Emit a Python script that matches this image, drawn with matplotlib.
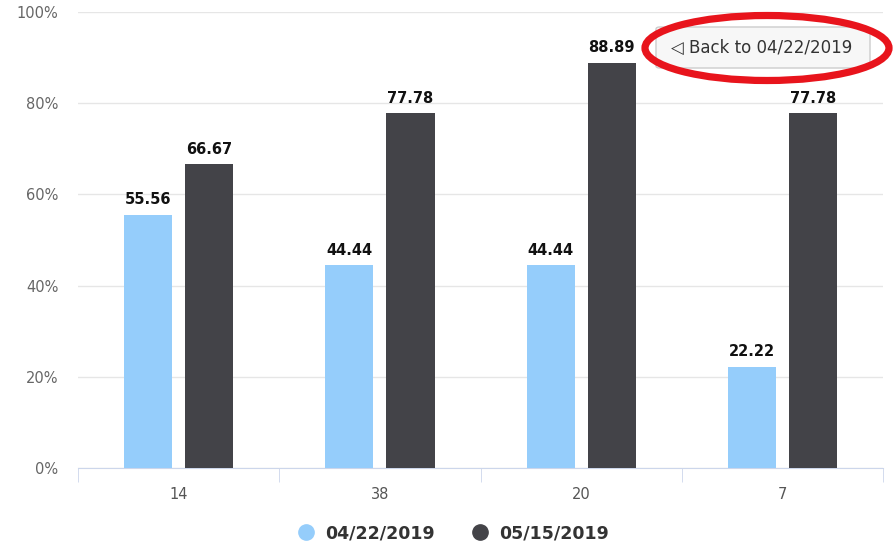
import numpy as np
import matplotlib.pyplot as plt
from matplotlib.patches import Ellipse, FancyBboxPatch
from matplotlib.lines import Line2D

categories = ["14", "38", "20", "7"]
series_names = ["04/22/2019", "05/15/2019"]
values_apr = [55.56, 44.44, 44.44, 22.22]
values_may = [66.67, 77.78, 88.89, 77.78]
colors = ["#95cdfb", "#434348"]

fig = plt.figure(figsize=(8.95, 5.46), dpi=100)
ax = fig.add_axes([0.0872, 0.1429, 0.8994, 0.835])

x = np.arange(len(categories))
offset = 0.152
width = 0.239
for vals, dx, col in [(values_apr, -offset, colors[0]), (values_may, offset, colors[1])]:
    bars = ax.bar(x + dx, vals, width=width, color=col, zorder=3)
    for b, v in zip(bars, vals):
        ax.text(b.get_x() + b.get_width() / 2, v + 1.6, f"{v:.2f}", ha="center", va="bottom",
                fontsize=10.5, fontweight="bold", color="#111111", zorder=4)

ax.set_xlim(-0.5, len(categories) - 0.5)
ax.set_ylim(0, 100)
ax.set_yticks(np.arange(0, 101, 20))
ax.set_yticklabels([f"{t}%" for t in range(0, 101, 20)])
ax.grid(axis="y", color="#e6e6e6", linewidth=1, zorder=0)
ax.set_xticks(x)
ax.set_xticklabels(categories)
ax.set_xticks(np.arange(-0.5, len(categories)), minor=True)
ax.tick_params(axis="x", which="major", length=0, pad=14, colors="#555555", labelsize=10.5)
ax.tick_params(axis="x", which="minor", length=10, color="#ccd6eb")
ax.tick_params(axis="y", length=0, pad=14, colors="#666666", labelsize=10.5)
for s in ["top", "right", "left"]:
    ax.spines[s].set_visible(False)
ax.spines["bottom"].set_color("#ccd6eb")

# "Back to" button with red highlight
btn = FancyBboxPatch((656 / 895, 1 - 68 / 546), 214 / 895, 41 / 546,
                     boxstyle="round,pad=0,rounding_size=0.004", transform=fig.transFigure,
                     facecolor="#f7f7f7", edgecolor="#cccccc", linewidth=1, zorder=5)
fig.patches.append(btn)
fig.text(762 / 895, 1 - 48 / 546, "◁ Back to 04/22/2019", ha="center", va="center",
         fontsize=12, color="#333333", zorder=6)
ell = Ellipse((767 / 895, 1 - 48 / 546), 244 / 895, 65 / 546, transform=fig.transFigure,
              fill=False, edgecolor="#e8141c", linewidth=5.2, zorder=7)
fig.patches.append(ell)

handles = [Line2D([], [], marker="o", linestyle="", markersize=11, color=c) for c in colors]
fig.legend(handles, series_names, loc="center", bbox_to_anchor=(449 / 895, 1 - 533 / 546),
           ncol=2, frameon=False, handletextpad=0.1, columnspacing=1.6,
           prop={"size": 12.5, "weight": "bold"}, labelcolor="#333333")

fig.savefig("out.png", dpi=100)
